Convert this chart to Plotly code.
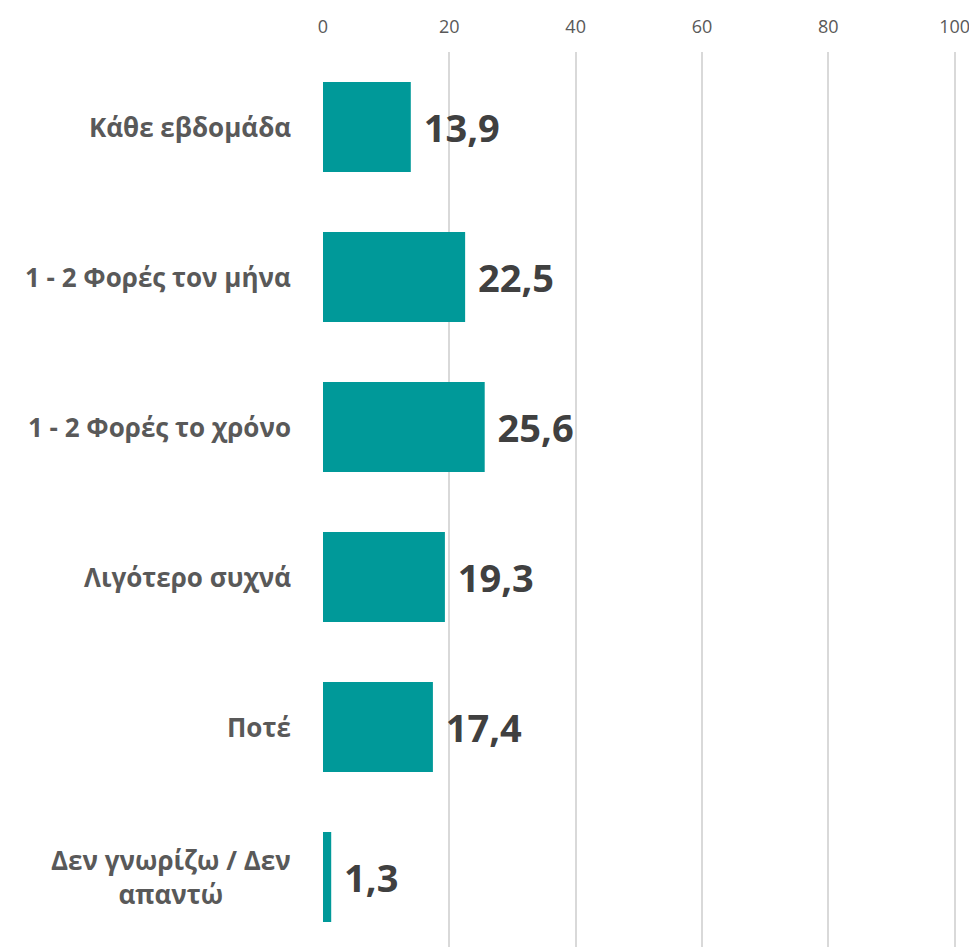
import plotly.graph_objects as go

categories = ["Κάθε εβδομάδα", "1 - 2 Φορές τον μήνα", "1 - 2 Φορές το χρόνο",
              "Λιγότερο συχνά", "Ποτέ", "Δεν γνωρίζω / Δεν<br>απαντώ"]
values = [13.9, 22.5, 25.6, 19.3, 17.4, 1.3]
tick_vals = [0, 20, 40, 60, 80, 100]
labels = [f"{v:.1f}".replace(".", ",") for v in values]

FONT = "Open Sans"
fig = go.Figure(go.Bar(
    y=list(range(len(categories))), x=values, orientation="h",
    marker=dict(color="#009999", line=dict(width=0)),
    text=[" " + t for t in labels], textposition="outside", cliponaxis=False,
    textfont=dict(family=FONT, size=38, color="#404040", weight="bold"),
    width=0.6,
))

for i, c in enumerate(categories):
    fig.add_annotation(xref="paper", yref="y", x=0, y=i, xanchor="right", xshift=-30,
                       text=c, showarrow=False, align="center",
                       font=dict(family=FONT, size=26, color="#595959", weight="bold"))

fig.update_layout(
    width=969, height=939, plot_bgcolor="white", paper_bgcolor="white",
    margin=dict(l=315, r=16, t=44, b=0), showlegend=False,
    xaxis=dict(side="top", range=[0, 101], tickvals=tick_vals, showgrid=True,
               gridcolor="#d9d9d9", gridwidth=2, zeroline=False, showline=False,
               ticklabelstandoff=14, ticklabeloverflow="allow",
               tickfont=dict(family=FONT, size=18, color="#595959"), ticks=""),
    yaxis=dict(range=[5.467, -0.5], showticklabels=False, showgrid=False, zeroline=False),
)
fig.write_html("out.html")
